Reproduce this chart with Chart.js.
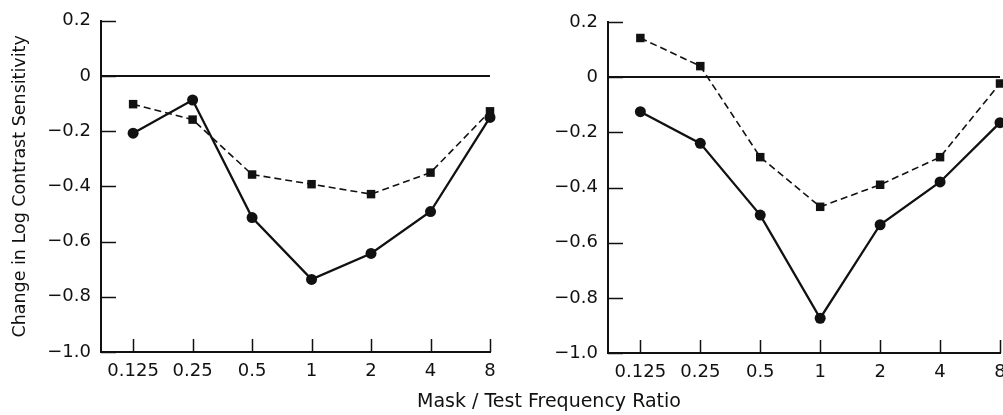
<!DOCTYPE html>
<html>
<head>
<meta charset="utf-8">
<script src="https://cdn.jsdelivr.net/npm/chart.js@4.4.1/dist/chart.umd.min.js"></script>
<style>
  html, body { margin: 0; padding: 0; background: #fff; overflow: hidden; }
  #wrap { position: relative; width: 1003px; height: 415px; overflow: hidden; }
  canvas { position: absolute; top: 0; }
  #xtitle {
    position: absolute; left: 349px; width: 400px; top: 389px;
    text-align: center; font: 19px "DejaVu Sans", sans-serif; color: #111;
    line-height: 22px;
  }
</style>
</head>
<body>
<div id="wrap">
  <canvas id="leftChart" width="520" height="415" style="left:0"></canvas>
  <canvas id="rightChart" width="600" height="415" style="left:500px"></canvas>
  <div id="xtitle">Mask / Test Frequency Ratio</div>
</div>
<script>
// mask / test frequency ratios (equally spaced, octave steps)
const ratios = ['0.125', '0.25', '0.5', '1', '2', '4', '8']

// left panel
const leftCircles = [-0.207, -0.087, -0.513, -0.737, -0.643, -0.491, -0.150]
const leftSquares = [-0.102, -0.158, -0.357, -0.392, -0.428, -0.350, -0.128]

// right panel
const rightCircles = [-0.125, -0.240, -0.500, -0.874, -0.535, -0.380, -0.165]
const rightSquares = [0.142, 0.040, -0.290, -0.470, -0.390, -0.290, -0.023]

const yTicks = [0.2, 0, -0.2, -0.4, -0.6, -0.8, -1.0]

const ink = '#111'
const tickFont = { family: 'DejaVu Sans', size: 18 }

const toPoints = values => values.map((v, i) => ({ x: i, y: v }))

// ticks point into the plot, like the printed figure
const inwardTicks = {
    id: 'inwardTicks',
    afterDatasetsDraw(chart) {
        const { ctx, chartArea, scales: { x, y } } = chart
        ctx.save()
        ctx.strokeStyle = ink
        ctx.lineWidth = 1.5
        ctx.beginPath()
        x.ticks.forEach(t => {
            const px = Math.round(x.getPixelForValue(t.value)) + 0.5
            ctx.moveTo(px, chartArea.bottom)
            ctx.lineTo(px, chartArea.bottom - 13)
        })
        y.ticks.forEach(t => {
            const py = Math.round(y.getPixelForValue(t.value)) + 0.5
            ctx.moveTo(chartArea.left, py)
            ctx.lineTo(chartArea.left + 15, py)
        })
        ctx.stroke()
        ctx.restore()
    }
}

function makePanel(canvasId, circles, squares, opts) {
    return new Chart(document.getElementById(canvasId), {
        type: 'line',
        data: {
            datasets: [
                {
                    label: 'circles',
                    data: toPoints(circles),
                    borderColor: ink,
                    borderWidth: 2.3,
                    backgroundColor: ink,
                    pointStyle: 'circle',
                    pointRadius: 5.5,
                    pointBorderWidth: 0,
                    pointBackgroundColor: ink,
                    clip: false,
                },
                {
                    label: 'squares',
                    data: toPoints(squares),
                    borderColor: ink,
                    borderWidth: 1.6,
                    borderDash: [7, 4],
                    backgroundColor: ink,
                    pointStyle: 'rect',
                    pointRadius: 6,
                    pointBorderWidth: 0,
                    pointBackgroundColor: ink,
                    clip: false,
                }
            ]
        },
        options: {
            responsive: false,
            animation: false,
            devicePixelRatio: 1,
            layout: { padding: { top: opts.top, right: opts.right, bottom: 0, left: 0 } },
            plugins: { legend: { display: false }, tooltip: { enabled: false } },
            scales: {
                x: {
                    type: 'linear',
                    min: -0.54,
                    max: ratios.length - 1,
                    afterBuildTicks: scale => { scale.ticks = ratios.map((r, i) => ({ value: i })) },
                    afterFit: scale => { scale.height = opts.xHeight },
                    grid: { display: false },
                    border: { display: true, color: ink, width: 2 },
                    ticks: {
                        color: ink,
                        font: tickFont,
                        padding: 1,
                        maxRotation: 0,
                        autoSkip: false,
                        callback: v => ratios[v]
                    }
                },
                y: {
                    min: -1.0,
                    max: 0.2,
                    afterBuildTicks: scale => { scale.ticks = yTicks.map(v => ({ value: v })) },
                    afterFit: scale => { scale.width = opts.yWidth },
                    grid: {
                        drawTicks: false,
                        color: c => (c.tick && Math.abs(c.tick.value) < 1e-9 ? ink : 'rgba(0,0,0,0)'),
                        lineWidth: 2
                    },
                    border: { display: true, color: ink, width: 2 },
                    ticks: {
                        color: ink,
                        font: tickFont,
                        padding: 10,
                        callback: v => (Math.abs(v) < 1e-9 ? '0' : v.toFixed(1).replace('-', '\u2212'))
                    },
                    title: {
                        display: !!opts.yTitle,
                        text: opts.yTitle || '',
                        color: ink,
                        font: { family: 'DejaVu Sans', size: 17.5 },
                        padding: { top: 10, bottom: 0 }
                    }
                }
            }
        },
        plugins: [inwardTicks]
    })
}

window.addEventListener('DOMContentLoaded', function () {
    makePanel('leftChart', leftCircles, leftSquares, {
        top: 19, right: 30, xHeight: 63, yWidth: 101,
        yTitle: 'Change in Log Contrast Sensitivity'
    })
    makePanel('rightChart', rightCircles, rightSquares, {
        top: 22, right: 100, xHeight: 62, yWidth: 108
    })
})
</script>
</body>
</html>
